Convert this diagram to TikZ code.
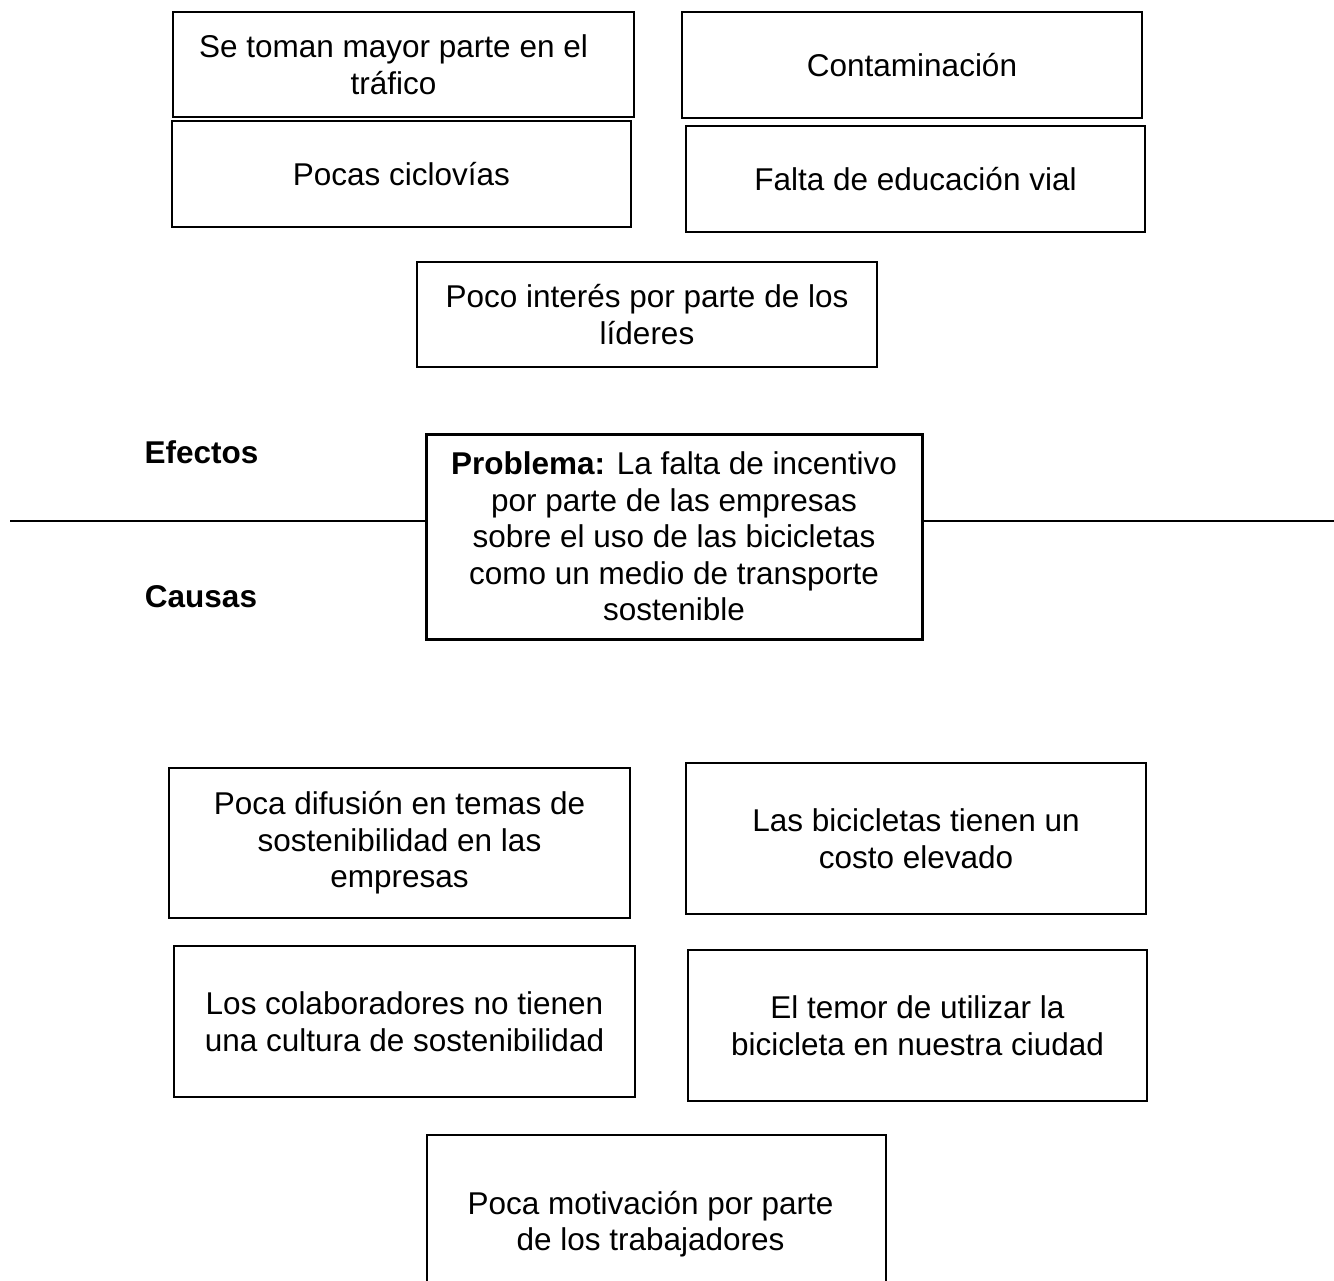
\documentclass[tikz,border=0pt]{standalone}
\usepackage{fontspec}
\setmainfont{Liberation Sans}
\begin{document}
\begin{tikzpicture}[x=1pt,y=-1pt,
  box/.style={draw=black, line width=2pt, rectangle, align=center, inner sep=0pt,
    font=\fontsize{31.5}{36.5}\selectfont},
  probbox/.style={box, line width=3pt},
  side/.style={font=\fontsize{31.5}{36.5}\selectfont\bfseries, anchor=base}]
\clip (0,0) rectangle (1334,1281);
\fill[white] (0,0) rectangle (1334,1281);

% Efectos
\node[box, minimum width=461pt, minimum height=105pt] (b1) at (403.5,64.5)
  {Se toman mayor parte en el\hspace*{20pt}\\tráfico\hspace*{20pt}};
\node[box, minimum width=460pt, minimum height=106pt] (b2) at (912,65) {Contaminación};
\node[box, minimum width=459pt, minimum height=106pt] (b3) at (401.5,174) {Pocas ciclovías};
\node[box, minimum width=459pt, minimum height=106pt] (b4) at (915.5,179) {Falta de educación vial};
\node[box, minimum width=460pt, minimum height=105pt] (b5) at (647,314.5)
  {Poco interés por parte de los\\líderes};

% Problema
\node[probbox, minimum width=496pt, minimum height=205pt] (prob) at (674,536.5)
  {\textbf{Problema:} La falta de incentivo\\por parte de las empresas\\sobre el uso de las bicicletas\\como un medio de transporte\\sostenible};

\coordinate (L) at (10,521);
\coordinate (R) at (1334,521);
\draw[line width=2.5pt] (L) -- (L -| prob.west);
\draw[line width=2.5pt] (prob.east |- R) -- (R);

\node[side] (efectos) at (201.5,463) {Efectos};
\node[side] (causas) at (201,607) {Causas};

% Causas
\node[box, minimum width=461pt, minimum height=150pt] (b6) at (399.5,843)
  {Poca difusión en temas de\\sostenibilidad en las\\empresas};
\node[box, minimum width=460pt, minimum height=151pt] (b7) at (916,838.5)
  {Las bicicletas tienen un\\costo elevado};
\node[box, minimum width=461pt, minimum height=151pt] (b8) at (404.5,1021.5)
  {Los colaboradores no tienen\\una cultura de sostenibilidad};
\node[box, minimum width=459pt, minimum height=151pt] (b9) at (917.5,1025.5)
  {El temor de utilizar la\\bicicleta en nuestra ciudad};
\node[box, minimum width=459pt, minimum height=178pt] (b10) at (656.5,1224)
  {Poca motivación por parte\hspace*{12pt}\\de los trabajadores\hspace*{12pt}};
\end{tikzpicture}
\end{document}
